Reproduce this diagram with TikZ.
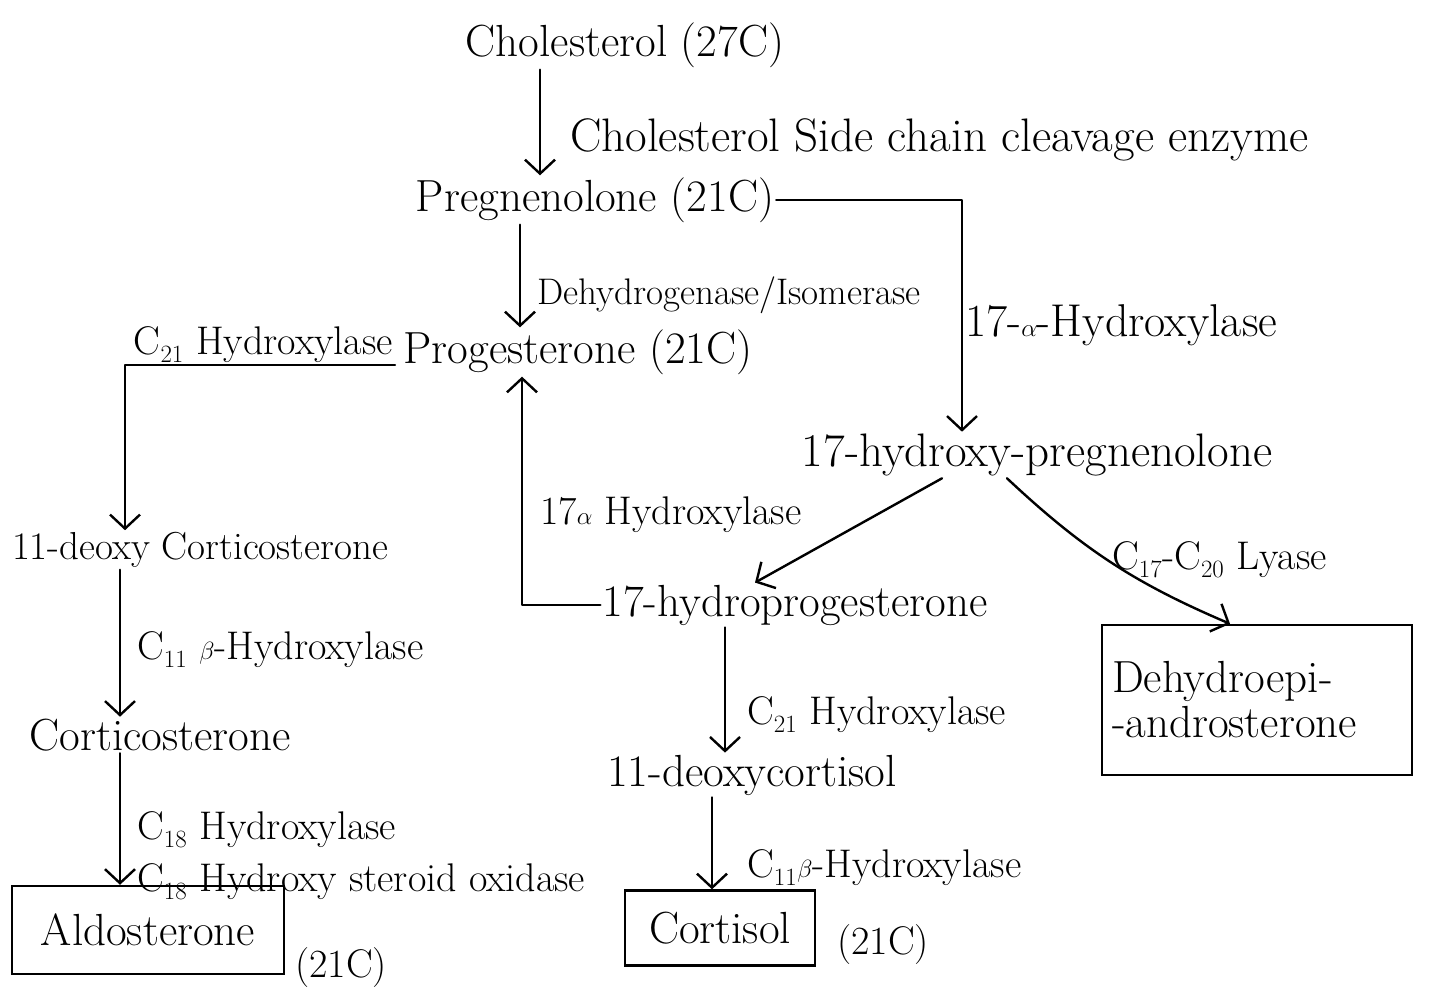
\documentclass[tikz,border=0pt]{standalone}
\usepackage{tikz}
\usetikzlibrary{arrows.meta,calc}
\tikzset{
   chem/.style={font=\fontsize{#1}{#1}\selectfont, inner sep=2pt},
   chem/.default=45,
   enz/.style={font=\fontsize{#1}{#1}\selectfont, inner sep=2pt, anchor=west},
   enz/.default=40,
   hand/.style={draw=black, line width=2.4pt, line cap=round, line join=round},
   arr/.style={hand, -{Straight Barb[length=14pt,width=30pt,line width=2.4pt]}},
   product/.style={chem=#1, draw=black, line width=2.4pt, inner sep=10pt},
   product/.default=45,
    }
\begin{document}
\begin{tikzpicture}[x=1pt,y=-1pt]
            \useasboundingbox (0,0) rectangle (1429,995);
            % main line
            \node[chem] (chol) at (625,45) {Cholesterol (27C)};
            \node[enz=47] (scc) at (568,140) {Cholesterol Side chain cleavage enzyme};
            \node[chem] (preg) at (595,200) {Pregnenolone (21C)};
            \node[enz=37] (dhi) at (535,295) {Dehydrogenase/Isomerase};
            \node[chem] (prog) at (578,352) {Progesterone (21C)};
            \node[enz=46] (alpha) at (963,325) {17-$\alpha$-Hydroxylase};
            \node[chem=47] (ohpreg) at (1037,455) {17-hydroxy-pregnenolone};
            % left branch
            \node[enz, anchor=east] (c21a) at (395,345) {C$_{21}$ Hydroxylase};
            \node[chem=39] (doc) at (200,550) {11-deoxy Corticosterone};
            \node[enz] (c11a) at (135,650) {C$_{11}$ $\beta$-Hydroxylase};
            \node[chem] (cort) at (160,735) {Corticosterone};
            \node[enz] (c18a) at (135,830) {C$_{18}$ Hydroxylase};
            \node[enz] (c18b) at (135,882) {C$_{18}$ Hydroxy steroid oxidase};
            \node[product, minimum width=272pt, minimum height=88pt] (aldo) at (148,930) {Aldosterone};
            \node[enz] (aldoc) at (293,968) {(21C)};
            % middle branch
            \node[enz] (alpha2) at (538,515) {17$\alpha$ Hydroxylase};
            \node[chem] (ohprog) at (795,605) {17-hydroprogesterone};
            \node[enz] (c21b) at (745,715) {C$_{21}$ Hydroxylase};
            \node[chem] (doxc) at (752,775) {11-deoxycortisol};
            \node[enz] (c11b) at (745,868) {C$_{11}$$\beta$-Hydroxylase};
            \node[product, minimum width=190pt, minimum height=75pt] (cortisol) at (720,928) {Cortisol};
            \node[enz] (cortc) at (835,945) {(21C)};
            % right branch
            \node[enz] (lyase) at (1110,560) {C$_{17}$-C$_{20}$ Lyase};
            \node[product, align=left, text width=290pt, minimum height=150pt] (dhea) at (1257,700) {Dehydroepi-\\-androsterone};
            % arrows
            \draw[arr] ($(chol.south)+(-85,0)$) -- ($(preg.north)+(-55,0)$);
            \draw[arr] ($(preg.south)+(-75,0)$) -- ($(prog.north)+(-58,0)$);
            \draw[arr] (preg.east) -| ($(ohpreg.north)+(-75,0)$);
            \draw[arr] (c21a.south east) -| ($(doc.north)+(-75,0)$);
            \draw[arr] ($(doc.south)+(-80,0)$) -- ($(cort.north)+(-40,0)$);
            \draw[arr] ($(cort.south)+(-40,0)$) -- ($(aldo.north)+(-28,0)$);
            \draw[arr] ($(ohpreg.south)+(-95,0)$) -- ($(ohprog.north)+(-40,0)$);
            \draw[arr] ($(ohpreg.south)+(-30,0)$) to[bend right=10] ($(dhea.north)+(-27,0)$);
            \draw[arr] (ohprog.west) -| ($(prog.south)+(-56,0)$);
            \draw[arr] ($(ohprog.south)+(-70,0)$) -- ($(doxc.north)+(-27,0)$);
            \draw[arr] ($(doxc.south)+(-40,0)$) -- ($(cortisol.north)+(-8,0)$);
        \end{tikzpicture}
\end{document}
